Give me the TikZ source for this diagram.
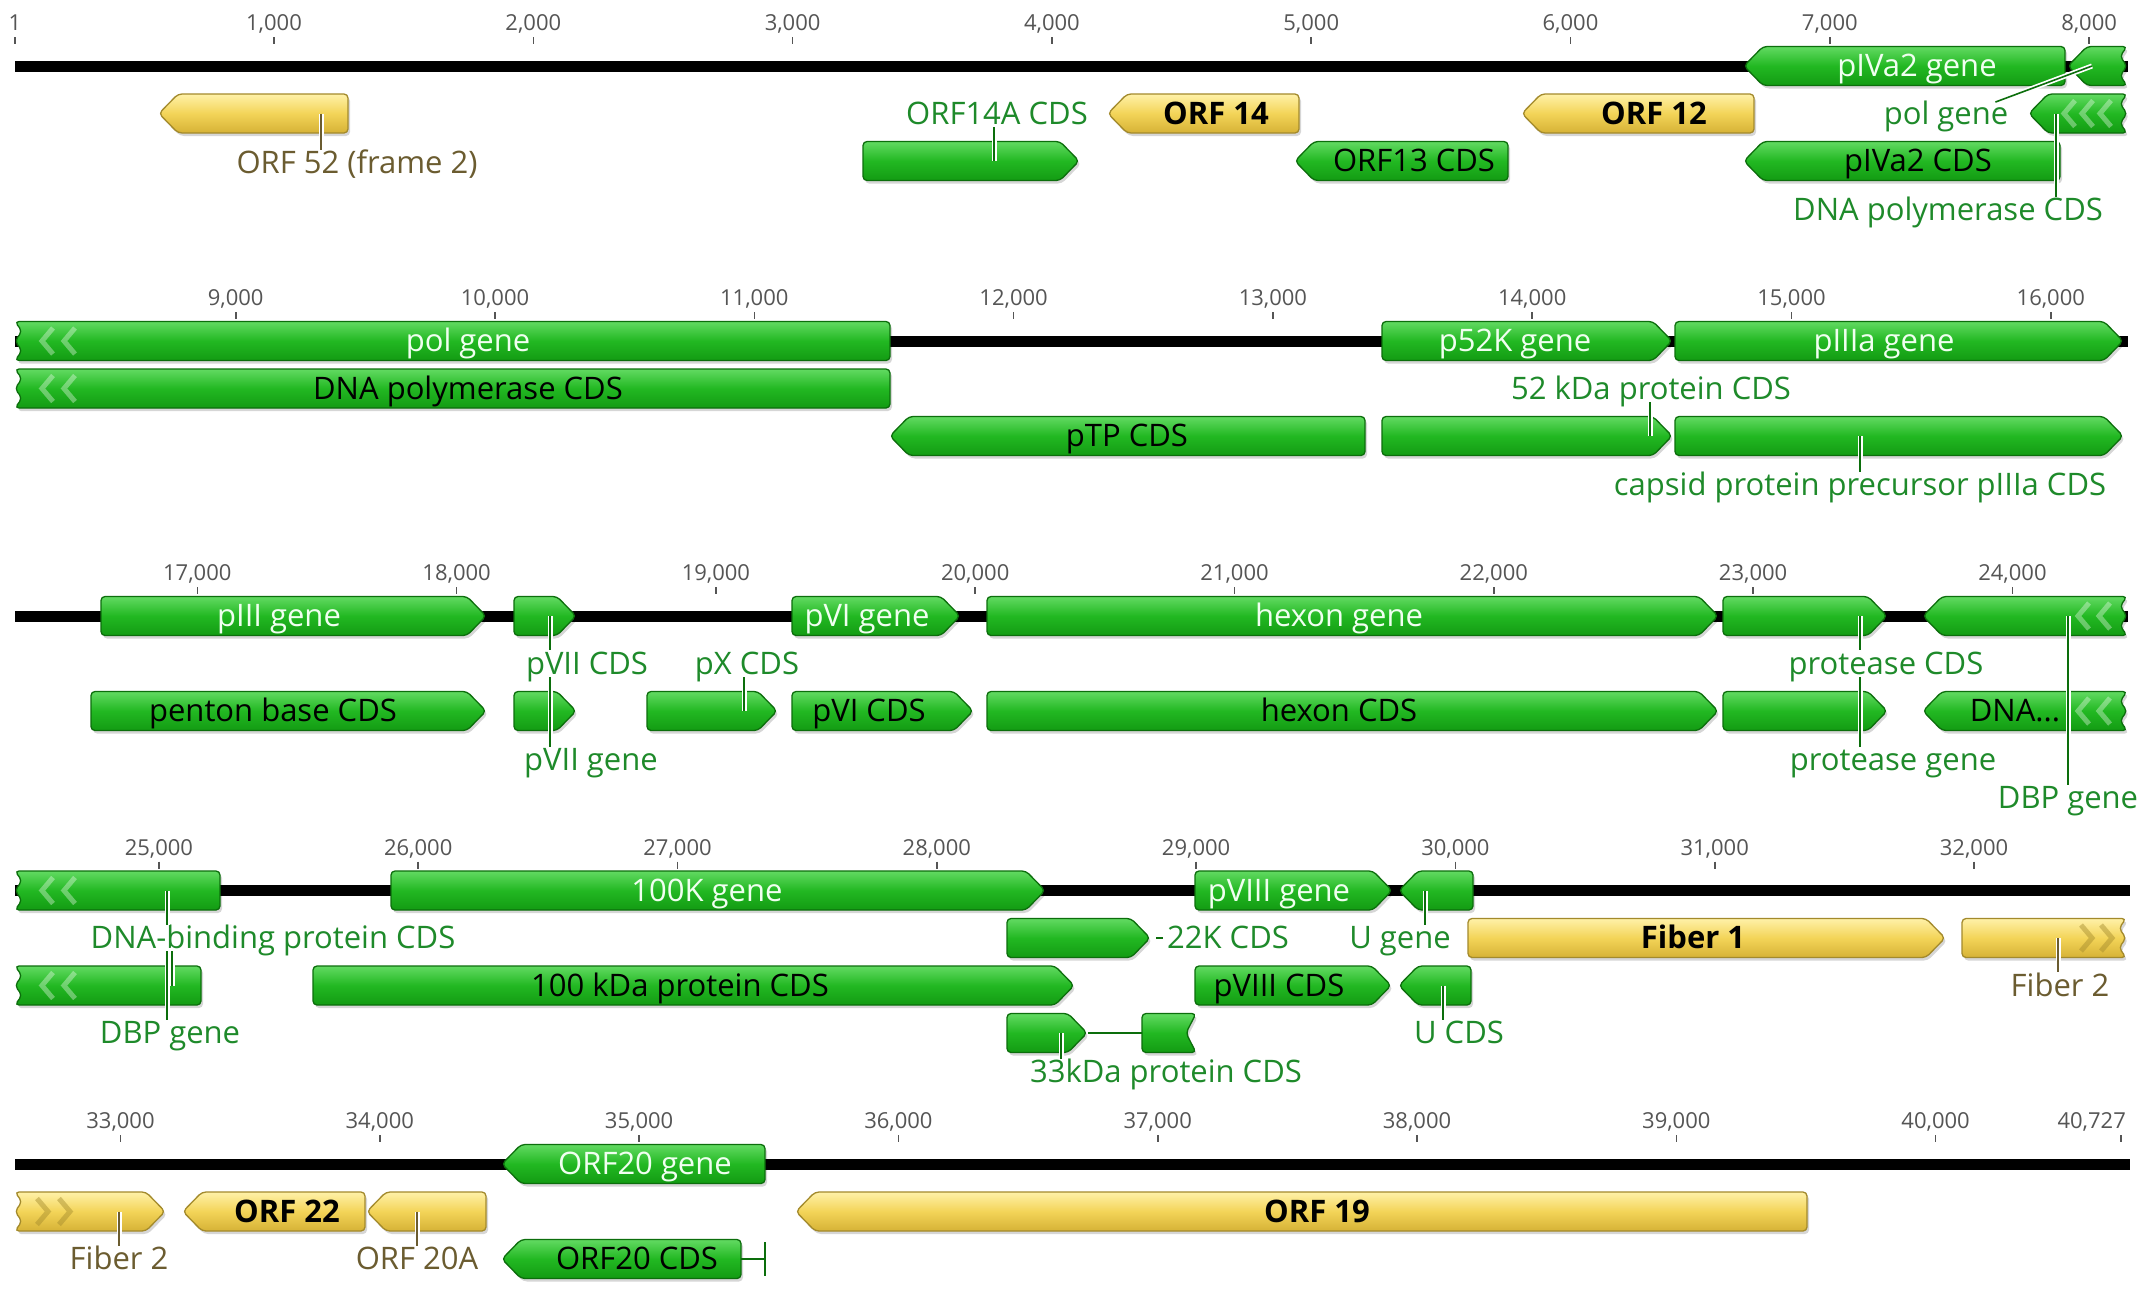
\documentclass[tikz,border=0pt]{standalone}
\usepackage{fontspec}
\setmainfont{Open Sans}
\usetikzlibrary{calc}
\definecolor{gtop}{HTML}{62DA62}
\definecolor{gmid}{HTML}{22B822}
\definecolor{gbot}{HTML}{139B13}
\definecolor{gedge}{HTML}{0C6E0C}
\definecolor{ytop}{HTML}{FFF1A8}
\definecolor{ymid}{HTML}{F3D458}
\definecolor{ybot}{HTML}{D6B236}
\definecolor{yedge}{HTML}{A38A2C}
\definecolor{lgreen}{HTML}{1E8A2A}
\definecolor{lolive}{HTML}{6B5C30}
\definecolor{tickgray}{HTML}{555555}
\newcommand\ftxt{\fontsize{31}{36}\selectfont}
\newcommand\ftick{\fontsize{22}{26}\selectfont}
% end pieces: R* go from top-right to bottom-right, L* from bottom-left to top-left
\newcommand\Rp[2]{({#1-19},{#2-19.5}) -- (#1,#2) -- ({#1-19},{#2+19.5})}
\newcommand\Rf[2]{(#1,{#2-19.5}) -- (#1,{#2+19.5})}
\newcommand\Rz[2]{(#1,{#2-19.5}) -- ({#1-7},{#2-9.75}) -- (#1,#2) -- ({#1-7},{#2+9.75}) -- (#1,{#2+19.5})}
\newcommand\Rv[2]{(#1,{#2-19.5}) -- ({#1-10},#2) -- (#1,{#2+19.5})}
\newcommand\Lp[2]{({#1+19},{#2+19.5}) -- (#1,#2) -- ({#1+19},{#2-19.5})}
\newcommand\Lf[2]{(#1,{#2+19.5}) -- (#1,{#2-19.5})}
\newcommand\Lz[2]{(#1,{#2+19.5}) -- ({#1+7},{#2+9.75}) -- (#1,#2) -- ({#1+7},{#2-9.75}) -- (#1,{#2-19.5})}
\newcommand\feat[6]{%
  \path[shadowbox] #6{#3}{#4} -- #5{#2}{#4} -- cycle;
  \path[#1] #6{#3}{#4} -- #5{#2}{#4} -- cycle;}
\newcommand\chL[3]{\draw[#1] ({#2+11},{#3-13}) -- (#2,#3) -- ({#2+11},{#3+13});}
\newcommand\chR[3]{\draw[#1] ({#2-11},{#3-13}) -- (#2,#3) -- ({#2-11},{#3+13});}
\newcommand\ticks[3]{\foreach \x/\t [count=\i] in {#3} {\draw[tickm] (\x,{#2-29}) -- (\x,{#2-22}); \node[tickl] (tk#1-\i) at (\x,{#2-43}) {\t};}}
\tikzset{
  shadowbox/.style={fill=black, opacity=0.16, rounded corners=4pt, shift={(2,3)}},
  gbox/.style={draw=gedge, line width=1.3pt, rounded corners=4pt, top color=gtop, bottom color=gbot, middle color=gmid},
  ybox/.style={draw=yedge, line width=1.3pt, rounded corners=4pt, top color=ytop, bottom color=ybot, middle color=ymid},
  basetxt/.style={font=\ftxt, inner sep=0pt, text height=22pt, text depth=0.5pt},
  gwt/.style={basetxt, text=white!94!green},
  gbk/.style={basetxt, text=black},
  ybk/.style={basetxt, text=black, font=\ftxt\bfseries},
  lab/.style={basetxt, text=lgreen, inner ysep=2pt, inner xsep=1pt},
  olab/.style={lab, text=lolive},
  lead/.style={draw=gedge, line width=1.6pt, preaction={draw=white, line width=5pt}},
  olead/.style={draw=lolive, line width=1.6pt, preaction={draw=white, line width=5pt}},
  joinline/.style={draw=gedge, line width=1.5pt},
  gchev/.style={draw=white, opacity=0.35, line width=5pt},
  ychev/.style={draw=yedge, opacity=0.45, line width=5pt},
  axisline/.style={draw=black, line width=11pt},
  tickm/.style={draw=tickgray, line width=1.6pt},
  tickl/.style={font=\ftick, text=tickgray, inner sep=0pt, text height=16pt, text depth=0.5pt},
}
\begin{document}
\begin{tikzpicture}[x=1pt,y=-1pt]
\fill[white] (0,0) rectangle (2142,1307);
\useasboundingbox (0,0) rectangle (2142,1307);

% ================= Row 1 =================
\coordinate (ax1s) at (15,66); \coordinate (ax1e) at (2128,66);
\draw[axisline] (ax1s) -- (ax1e);
\ticks{1}{66}{15/1, 274/{1,000}, 533.3/{2,000}, 792.6/{3,000}, 1051.9/{4,000}, 1311.2/{5,000}, 1570.5/{6,000}, 1829.8/{7,000}, 2089.1/{8,000}}

\feat{ybox}{159}{348}{113.5}{\Lp}{\Rf}
\coordinate (f-orf52) at (321,113.5);
\node[olab] (l-orf52) at (357,163) {ORF 52 (frame 2)};
\draw[olead] (f-orf52) -- (f-orf52 |- l-orf52.north);

\feat{gbox}{863}{1079}{161}{\Lf}{\Rp}
\coordinate (f-orf14a) at (994,161);
\node[lab] (l-orf14a) at (997,113.5) {ORF14A CDS};
\draw[lead] (f-orf14a) -- (f-orf14a |- l-orf14a.south);

\feat{ybox}{1108}{1299}{113.5}{\Lp}{\Rf}
\node[ybk] (t-orf14) at (1216,113.5) {ORF 14};
\feat{gbox}{1295}{1508}{161}{\Lp}{\Rf}
\node[gbk] (t-orf13) at (1414,161) {ORF13 CDS};
\feat{ybox}{1522}{1754}{113.5}{\Lp}{\Rf}
\node[ybk] (t-orf12) at (1654,113.5) {ORF 12};
\feat{gbox}{1744}{2065}{66}{\Lp}{\Rf}
\node[gwt] (t-piva2g) at (1917,66) {pIVa2 gene};
\feat{gbox}{2068}{2127}{66}{\Lp}{\Rz}
\coordinate (f-polg1) at (2092,66);
\node[lab] (l-polg1) at (1946,113.5) {pol gene};
\draw[lead] (f-polg1) -- ($(l-polg1.north east)+(-14,2)$);
\feat{gbox}{2029}{2127}{113.5}{\Lp}{\Rz}
\chL{gchev}{2064}{113.5}\chL{gchev}{2082}{113.5}\chL{gchev}{2100}{113.5}
\coordinate (f-dnapol1) at (2056,113.5);
\feat{gbox}{1744}{2060}{161}{\Lp}{\Rf}
\node[gbk] (t-piva2c) at (1918,161) {pIVa2 CDS};
\node[lab] (l-dnapol1) at (1948,210) {DNA polymerase CDS};
\draw[lead] (f-dnapol1) -- (f-dnapol1 |- l-dnapol1.north);

% ================= Row 2 =================
\coordinate (ax2s) at (15,341); \coordinate (ax2e) at (2128,341);
\draw[axisline] (ax2s) -- (ax2e);
\ticks{2}{341}{235.7/{9,000}, 495/{10,000}, 754.3/{11,000}, 1013.6/{12,000}, 1272.9/{13,000}, 1532.2/{14,000}, 1791.5/{15,000}, 2050.8/{16,000}}

\feat{gbox}{15}{890}{341}{\Lz}{\Rf}
\chL{gchev}{42}{341}\chL{gchev}{64}{341}
\node[gwt] (t-polg2) at (468,341) {pol gene};
\feat{gbox}{15}{890}{388.5}{\Lz}{\Rf}
\chL{gchev}{42}{388.5}\chL{gchev}{64}{388.5}
\node[gbk] (t-dnapol2) at (468,388.5) {DNA polymerase CDS};
\feat{gbox}{890}{1365}{436}{\Lp}{\Rf}
\node[gbk] (t-ptp) at (1127,436) {pTP CDS};
\feat{gbox}{1382}{1672}{341}{\Lf}{\Rp}
\node[gwt] (t-p52kg) at (1515,341) {p52K gene};
\feat{gbox}{1675}{2123}{341}{\Lf}{\Rp}
\node[gwt] (t-piiiag) at (1884,341) {pIIIa gene};
\feat{gbox}{1382}{1672}{436}{\Lf}{\Rp}
\coordinate (f-p52kc) at (1650,436);
\node[lab] (l-p52kc) at (1651,388.5) {52 kDa protein CDS};
\draw[lead] (f-p52kc) -- (f-p52kc |- l-p52kc.south);
\feat{gbox}{1675}{2123}{436}{\Lf}{\Rp}
\coordinate (f-capsid) at (1860,436);
\node[lab] (l-capsid) at (1860,485) {capsid protein precursor pIIIa CDS};
\draw[lead] (f-capsid) -- (f-capsid |- l-capsid.north);

% ================= Row 3 =================
\coordinate (ax3s) at (15,616); \coordinate (ax3e) at (2128,616);
\draw[axisline] (ax3s) -- (ax3e);
\ticks{3}{616}{197.3/{17,000}, 456.6/{18,000}, 715.9/{19,000}, 975.2/{20,000}, 1234.5/{21,000}, 1493.8/{22,000}, 1753.1/{23,000}, 2012.4/{24,000}}

\feat{gbox}{101}{486}{616}{\Lf}{\Rp}
\node[gwt] (t-piiig) at (279,616) {pIII gene};
\feat{gbox}{91}{486}{711}{\Lf}{\Rp}
\node[gbk] (t-penton) at (273,711) {penton base CDS};
\feat{gbox}{514}{576}{616}{\Lf}{\Rp}
\coordinate (f-pviig) at (550,616);
\feat{gbox}{514}{576}{711}{\Lf}{\Rp}
\coordinate (f-pviic) at (550,711);
\node[lab] (l-pviic) at (587,663.5) {pVII CDS};
\node[lab] (l-pviig) at (591,760) {pVII gene};
\draw[lead] (f-pviig) -- (f-pviig |- l-pviic.north);
\draw[lead] (f-pviic) -- (f-pviic |- l-pviic.south);
\draw[lead] (f-pviic) -- (f-pviic |- l-pviig.north);
\feat{gbox}{647}{777}{711}{\Lf}{\Rp}
\coordinate (f-pxc) at (744,711);
\node[lab] (l-pxc) at (747,663.5) {pX CDS};
\draw[lead] (f-pxc) -- (f-pxc |- l-pxc.south);
\feat{gbox}{792}{960}{616}{\Lf}{\Rp}
\node[gwt] (t-pvig) at (867,616) {pVI gene};
\feat{gbox}{792}{973}{711}{\Lf}{\Rp}
\node[gbk] (t-pvic) at (869,711) {pVI CDS};
\feat{gbox}{987}{1718}{616}{\Lf}{\Rp}
\node[gwt] (t-hexong) at (1339,616) {hexon gene};
\feat{gbox}{987}{1718}{711}{\Lf}{\Rp}
\node[gbk] (t-hexonc) at (1339,711) {hexon CDS};
\feat{gbox}{1723}{1887}{616}{\Lf}{\Rp}
\coordinate (f-protg) at (1860,616);
\feat{gbox}{1723}{1887}{711}{\Lf}{\Rp}
\coordinate (f-protc) at (1860,711);
\node[lab] (l-protc) at (1886,663.5) {protease CDS};
\node[lab] (l-protg) at (1893,760) {protease gene};
\draw[lead] (f-protg) -- (f-protg |- l-protc.north);
\draw[lead] (f-protc) -- (f-protc |- l-protc.south);
\draw[lead] (f-protc) -- (f-protc |- l-protg.north);
\feat{gbox}{1923}{2127}{616}{\Lp}{\Rz}
\chL{gchev}{2078}{616}\chL{gchev}{2099}{616}
\coordinate (f-dbpg3) at (2068,616);
\feat{gbox}{1923}{2127}{711}{\Lp}{\Rz}
\chL{gchev}{2078}{711}\chL{gchev}{2099}{711}
\node[gbk] (t-dnabp3) at (2015,711) {DNA...};
\node[lab] (l-dbpg3) at (2068,798) {DBP gene};
\draw[lead] (f-dbpg3) -- (f-dbpg3 |- l-dbpg3.north);

% ================= Row 4 =================
\coordinate (ax4s) at (15,890.5); \coordinate (ax4e) at (2130,890.5);
\draw[axisline] (ax4s) -- (ax4e);
\ticks{4}{890.5}{158.9/{25,000}, 418.2/{26,000}, 677.5/{27,000}, 936.8/{28,000}, 1196.1/{29,000}, 1455.4/{30,000}, 1714.7/{31,000}, 1974/{32,000}}

\feat{gbox}{15}{220}{890.5}{\Lz}{\Rf}
\chL{gchev}{42}{890.5}\chL{gchev}{64}{890.5}
\coordinate (f-dbpg4) at (167,890.5);
\feat{gbox}{15}{201}{985.5}{\Lz}{\Rf}
\chL{gchev}{42}{985.5}\chL{gchev}{64}{985.5}
\coordinate (f-dnabp4) at (172,985.5);
\node[lab] (l-dnabp4) at (273,938) {DNA-binding protein CDS};
\node[lab] (l-dbpg4) at (170,1033) {DBP gene};
\draw[lead] (f-dbpg4) -- (f-dbpg4 |- l-dnabp4.north);
\draw[lead] (f-dnabp4) -- (f-dnabp4 |- l-dnabp4.south);
\draw[lead] (f-dbpg4 |- l-dnabp4.south) -- (f-dbpg4 |- l-dbpg4.north);
\feat{gbox}{391}{1045}{890.5}{\Lf}{\Rp}
\node[gwt] (t-k100g) at (707,890.5) {100K gene};
\feat{gbox}{313}{1074}{985.5}{\Lf}{\Rp}
\node[gbk] (t-k100c) at (680,985.5) {100 kDa protein CDS};
\feat{gbox}{1007}{1150}{938}{\Lf}{\Rp}
\coordinate (f-k22c) at (1156,938);
\node[lab, anchor=west] (l-k22c) at (1166,938) {22K CDS};
\draw[joinline, shorten >=3pt] (f-k22c) -- (l-k22c.west);
\feat{gbox}{1007}{1087}{1033}{\Lf}{\Rp}
\feat{gbox}{1142}{1196}{1033}{\Lf}{\Rv}
\coordinate (f-k33ae) at (1088,1033); \coordinate (f-k33bs) at (1142,1033);
\draw[joinline] (f-k33ae) -- (f-k33bs);
\coordinate (f-k33) at (1061,1033);
\node[lab] (l-k33) at (1166,1072) {33kDa protein CDS};
\draw[lead] (f-k33) -- (f-k33 |- l-k33.north);
\feat{gbox}{1195}{1392}{890.5}{\Lf}{\Rp}
\node[gwt] (t-pviiig) at (1279,890.5) {pVIII gene};
\feat{gbox}{1399}{1473}{890.5}{\Lp}{\Rf}
\coordinate (f-ug) at (1425,890.5);
\node[lab] (l-ug) at (1400,938) {U gene};
\draw[lead] (f-ug) -- (f-ug |- l-ug.north);
\feat{gbox}{1195}{1391}{985.5}{\Lf}{\Rp}
\node[gbk] (t-pviiic) at (1279,985.5) {pVIII CDS};
\feat{gbox}{1399}{1471}{985.5}{\Lp}{\Rf}
\coordinate (f-uc) at (1443,985.5);
\node[lab] (l-uc) at (1459,1033) {U CDS};
\draw[lead] (f-uc) -- (f-uc |- l-uc.north);
\feat{ybox}{1468}{1945}{938}{\Lf}{\Rp}
\node[ybk] (t-fiber1) at (1693,938) {Fiber 1};
\feat{ybox}{1962}{2126}{938}{\Lf}{\Rz}
\chR{ychev}{2092}{938}\chR{ychev}{2112}{938}
\coordinate (f-fib2a) at (2058,938);
\node[olab] (l-fib2a) at (2060,985.5) {Fiber 2};
\draw[olead] (f-fib2a) -- (f-fib2a |- l-fib2a.north);

% ================= Row 5 =================
\coordinate (ax5s) at (15,1164); \coordinate (ax5e) at (2130,1164);
\draw[axisline] (ax5s) -- (ax5e);
\ticks{5}{1164}{120.5/{33,000}, 379.8/{34,000}, 639.1/{35,000}, 898.4/{36,000}, 1157.7/{37,000}, 1417/{38,000}, 1676.3/{39,000}, 1935.6/{40,000}}
\draw[tickm] (2121,1135) -- (2121,1142);
\node[tickl, anchor=east] (tk5-end) at (2126,1121) {40,727};

\feat{ybox}{15}{165}{1211.5}{\Lz}{\Rp}
\chR{ychev}{48}{1211.5}\chR{ychev}{70}{1211.5}
\coordinate (f-fib2b) at (119,1211.5);
\node[olab] (l-fib2b) at (119,1259) {Fiber 2};
\draw[olead] (f-fib2b) -- (f-fib2b |- l-fib2b.north);
\feat{ybox}{183}{365}{1211.5}{\Lp}{\Rf}
\node[ybk] (t-orf22) at (287,1211.5) {ORF 22};
\feat{ybox}{367}{486}{1211.5}{\Lp}{\Rf}
\coordinate (f-orf20a) at (417,1211.5);
\node[olab] (l-orf20a) at (417,1259) {ORF 20A};
\draw[olead] (f-orf20a) -- (f-orf20a |- l-orf20a.north);
\feat{gbox}{502}{765}{1164}{\Lp}{\Rf}
\node[gwt] (t-orf20g) at (645,1164) {ORF20 gene};
\feat{gbox}{502}{741}{1259}{\Lp}{\Rf}
\node[gbk] (t-orf20c) at (637,1259) {ORF20 CDS};
\coordinate (f-orf20ce) at (741,1259); \coordinate (f-orf20cb) at (765,1259);
\draw[joinline] (f-orf20ce) -- (f-orf20cb);
\draw[joinline, line width=1.6pt] ($(f-orf20cb)+(0,-17)$) -- ($(f-orf20cb)+(0,17)$);
\feat{ybox}{796}{1807}{1211.5}{\Lp}{\Rf}
\node[ybk] (t-orf19) at (1317,1211.5) {ORF 19};
\end{tikzpicture}
\end{document}
